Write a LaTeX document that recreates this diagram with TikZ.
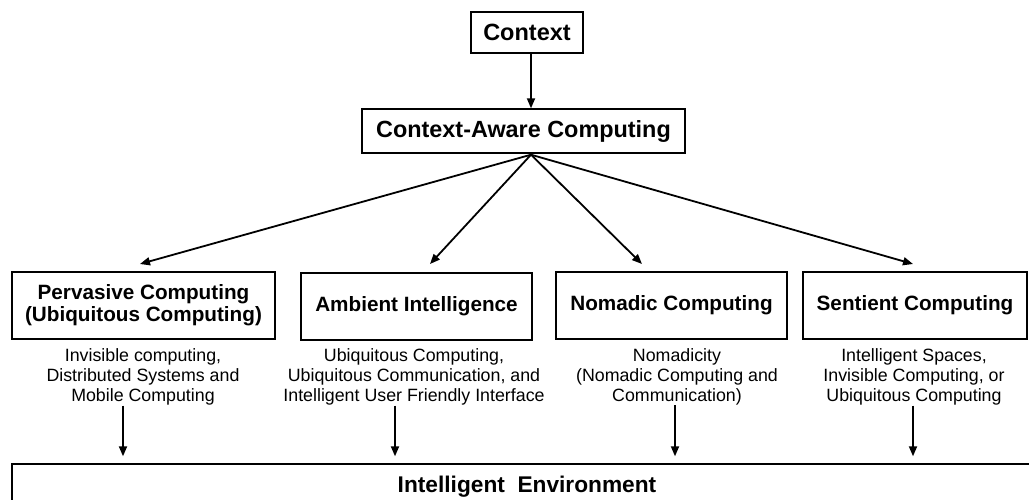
\documentclass[tikz,border=0pt]{standalone}
\usepackage{fontspec}
\setmainfont{Liberation Sans}
\usetikzlibrary{arrows.meta}
\begin{document}
\begin{tikzpicture}[x=1pt,y=-1pt,
  box/.style={draw,line width=1.4pt,inner sep=0pt,minimum height=67pt},
  ttl/.style={font=\fontsize{20.7}{22}\selectfont\bfseries,align=center},
  desc/.style={font=\fontsize{17.8}{20}\selectfont,align=center,inner sep=0pt},
  arr/.style={line width=1.8pt,-{Triangle[length=10pt,width=8pt]}}]
\path[use as bounding box,clip] (0,0) rectangle (1029,499);
% top boxes
\node[box,minimum width=112pt,minimum height=41pt,font=\fontsize{23.5}{26}\selectfont\bfseries] (ctx) at (527,32.5) {Context};
\node[box,minimum width=323pt,minimum height=44pt,font=\fontsize{23.4}{26}\selectfont\bfseries] (cac) at (523.5,131) {Context-Aware Computing};
% middle row
\node[box,ttl,minimum width=263pt] (pc) at (143.5,305.5) {Pervasive Computing\\(Ubiquitous Computing)};
\node[box,ttl,minimum width=231pt] (ai) at (416.5,306.5) {Ambient Intelligence};
\node[box,ttl,minimum width=231pt] (nc) at (671.5,305.5) {Nomadic Computing};
\node[box,ttl,minimum width=224pt] (sc) at (915,305.5) {Sentient Computing};
% descriptions
\node[desc] (d1) at (143,377) {Invisible computing,\\Distributed Systems and\\Mobile Computing};
\node[desc] (d2) at (414,377) {Ubiquitous Computing,\\Ubiquitous Communication, and\\Intelligent User Friendly Interface};
\node[desc] (d3) at (677,377) {Nomadicity\\(Nomadic Computing and\\Communication)};
\node[desc] (d4) at (914,377) {Intelligent Spaces,\\Invisible Computing, or\\Ubiquitous Computing};
% bottom box
\node[box,minimum width=1030pt,minimum height=46pt,font=\fontsize{22.7}{25}\selectfont\bfseries] (ie) at (527,487) {Intelligent\ \ Environment};
% coordinates
\coordinate (top) at (531,0);
\coordinate (f1) at (140,264);
\coordinate (f2) at (430,264);
\coordinate (f3) at (642,264);
\coordinate (f4) at (913,264);
\coordinate (x1) at (123,0);
\coordinate (x2) at (395,0);
\coordinate (x3) at (675,0);
\coordinate (x4) at (913,0);
% connectors
\draw[arr] (ctx.south -| top) -- (cac.north -| top);
\foreach \f in {f1,f2,f3,f4}
  \draw[arr] ([yshift=-1pt]cac.south -| top) -- (\f);
\draw[arr,shorten >=7pt] (d1.south -| x1) -- (ie.north -| x1);
\draw[arr,shorten >=7pt] (d2.south -| x2) -- (ie.north -| x2);
\draw[arr,shorten >=7pt] (d3.south -| x3) -- (ie.north -| x3);
\draw[arr,shorten >=7pt] (d4.south -| x4) -- (ie.north -| x4);
\end{tikzpicture}
\end{document}
